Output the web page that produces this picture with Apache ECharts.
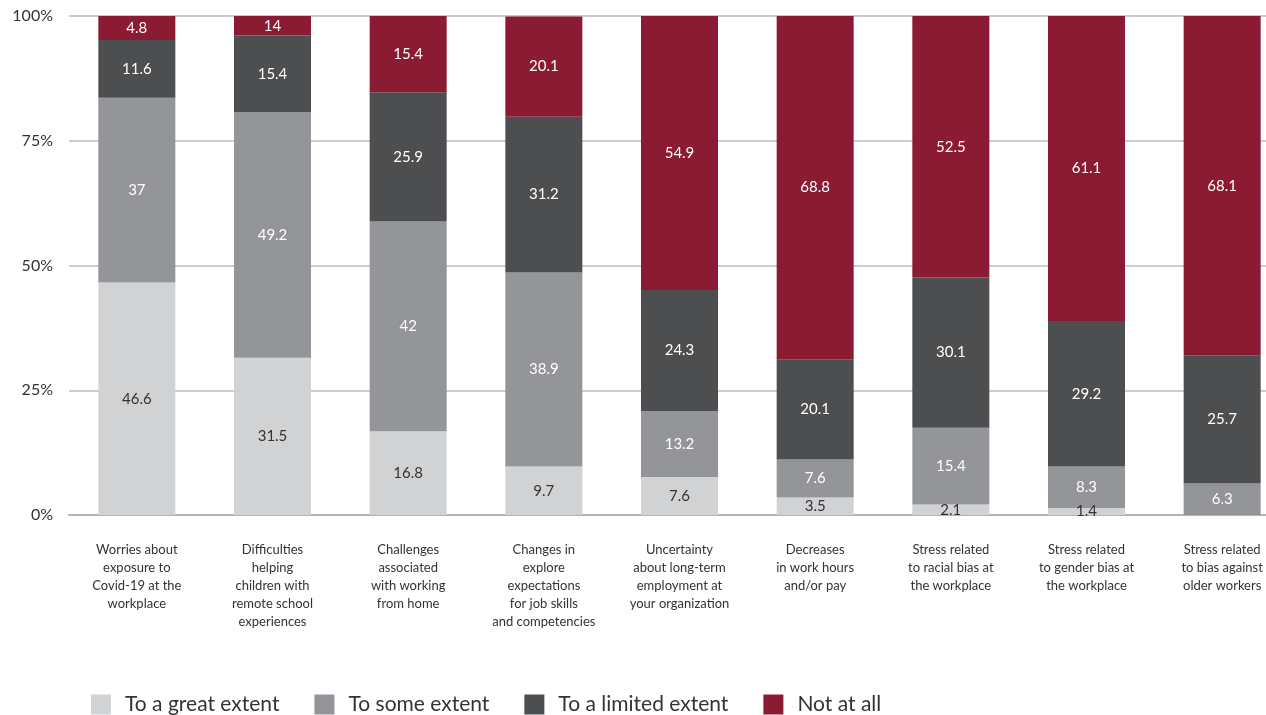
<!DOCTYPE html>
<html>
<head>
<meta charset="utf-8">
<script src="https://cdn.jsdelivr.net/npm/echarts@6/dist/echarts.min.js"></script>
<style>
  html, body { margin: 0; padding: 0; background: #ffffff; }
  #chart { width: 1266px; height: 715px; }
</style>
</head>
<body>
<div id="chart"></div>
<script>
// Stressors affecting employees, share of respondents (%)
const categories = [
  'Worries about\nexposure to\nCovid-19 at the\nworkplace',
  'Difficulties\nhelping\nchildren with\nremote school\nexperiences',
  'Challenges\nassociated\nwith working\nfrom home',
  'Changes in\nexplore\nexpectations\nfor job skills\nand competencies',
  'Uncertainty\nabout long-term\nemployment at\nyour organization',
  'Decreases\nin work hours\nand/or pay',
  'Stress related\nto racial bias at\nthe workplace',
  'Stress related\nto gender bias at\nthe workplace',
  'Stress related\nto bias against\nolder workers'
];

const greatExtent   = [46.6, 31.5, 16.8, 9.7, 7.6, 3.5, 2.1, 1.4, 0];
const someExtent    = [37, 49.2, 42, 38.9, 13.2, 7.6, 15.4, 8.3, 6.3];
const limitedExtent = [11.6, 15.4, 25.9, 31.2, 24.3, 20.1, 30.1, 29.2, 25.7];
const notAtAll      = [4.8, 14, 15.4, 20.1, 54.9, 68.8, 52.5, 61.1, 68.1];

const seriesNames = ['To a great extent', 'To some extent', 'To a limited extent', 'Not at all'];
const seriesColors = ['#d1d2d4', '#939598', '#4d4e50', '#8b1a33'];
const labelColors = ['#333333', '#ffffff', '#ffffff', '#ffffff'];
const yTicks = ['0%', '25%', '50%', '75%', '100%'];

const FONT = 'Lato, "Open Sans", sans-serif';

function makeSeries(name, data, i) {
  return {
    name: name,
    type: 'bar',
    stack: 'total',
    data: data,
    barWidth: 77,
    clip: true,
    itemStyle: { color: seriesColors[i] },
    label: {
      show: true,
      position: 'inside',
      color: labelColors[i],
      fontFamily: FONT,
      fontSize: 15,
      formatter: p => (p.value ? String(p.value) : '')
    },
    emphasis: { disabled: true }
  };
}

const chart = echarts.init(document.getElementById('chart'), null, { renderer: 'canvas' });
chart.setOption({
  animation: false,
  backgroundColor: '#ffffff',
  grid: { left: 69, right: -24, top: 16, bottom: 200, outerBoundsMode: 'none', containLabel: false },
  legend: {
    data: seriesNames,
    left: 86,
    top: 689,
    icon: 'rect',
    itemWidth: 20,
    itemHeight: 20,
    itemGap: 35,
    textStyle: { color: '#333333', fontFamily: FONT, fontSize: 21, padding: [0, 0, 0, 9] }
  },
  xAxis: {
    type: 'category',
    data: categories,
    axisTick: { show: false },
    axisLine: { show: true, lineStyle: { color: '#b3b3b3', width: 2 } },
    axisLabel: {
      interval: 0,
      margin: 26,
      color: '#333333',
      fontFamily: FONT,
      fontSize: 13,
      lineHeight: 18,
      align: 'center'
    }
  },
  yAxis: {
    type: 'value',
    min: 0,
    max: 100,
    interval: 25,
    axisLine: { show: false },
    axisTick: { show: false },
    splitLine: { lineStyle: { color: '#bdbdbd', width: 1.5 } },
    axisLabel: {
      margin: 16,
      color: '#333333',
      fontFamily: FONT,
      fontSize: 16,
      formatter: v => yTicks[Math.round(v / 25)]
    }
  },
  series: [
    makeSeries(seriesNames[0], greatExtent, 0),
    makeSeries(seriesNames[1], someExtent, 1),
    makeSeries(seriesNames[2], limitedExtent, 2),
    makeSeries(seriesNames[3], notAtAll, 3)
  ]
});
</script>
</body>
</html>
